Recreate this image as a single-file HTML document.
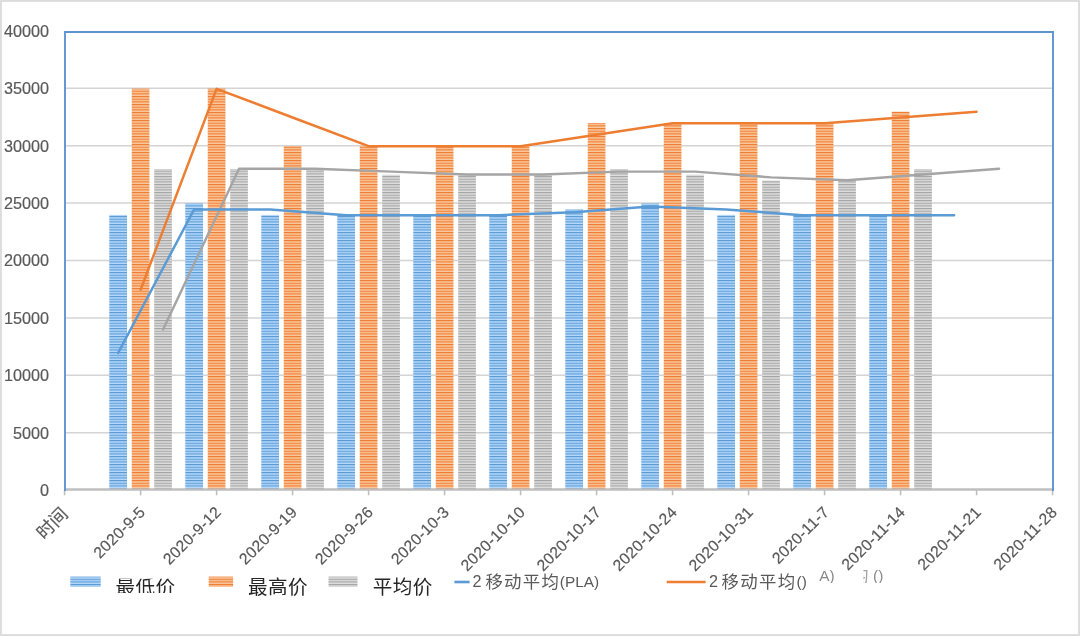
<!DOCTYPE html>
<html lang="zh-CN">
<head>
<meta charset="utf-8">
<title>PLA 价格走势</title>
<style>
html,body{margin:0;padding:0;background:#fff;}
body{width:1080px;height:636px;overflow:hidden;font-family:"Liberation Sans", "Noto Sans CJK SC", sans-serif;}
svg{display:block;}
text{font-family:"Liberation Sans", "Noto Sans CJK SC", sans-serif;}
</style>
</head>
<body>
<svg width="1080" height="636" viewBox="0 0 1080 636">
<defs>
<pattern id="pb" width="20" height="2.667" patternUnits="userSpaceOnUse"><rect width="20" height="2.667" fill="#b6d9fb"/><rect y="0" width="20" height="1.15" fill="#5b9bd5"/></pattern>
<pattern id="po" width="20" height="2.667" patternUnits="userSpaceOnUse"><rect width="20" height="2.667" fill="#fcc8a0"/><rect y="0" width="20" height="1.15" fill="#ed7d31"/></pattern>
<pattern id="pg" width="20" height="2.667" patternUnits="userSpaceOnUse"><rect width="20" height="2.667" fill="#dedede"/><rect y="0" width="20" height="1.15" fill="#a5a5a5"/></pattern>
</defs>
<rect x="0" y="0" width="1080" height="636" fill="#fff"/>
<rect x="0.95" y="0.95" width="1078.1" height="634.1" fill="none" stroke="#dcdcdc" stroke-width="1.9"/>

<g stroke="#d4d4d4" stroke-width="1.5">
<line x1="65.0" x2="1053.0" y1="432.70" y2="432.70"/>
<line x1="65.0" x2="1053.0" y1="375.30" y2="375.30"/>
<line x1="65.0" x2="1053.0" y1="317.90" y2="317.90"/>
<line x1="65.0" x2="1053.0" y1="260.50" y2="260.50"/>
<line x1="65.0" x2="1053.0" y1="203.10" y2="203.10"/>
<line x1="65.0" x2="1053.0" y1="145.70" y2="145.70"/>
<line x1="65.0" x2="1053.0" y1="88.30" y2="88.30"/>
</g>
<g fill="url(#pb)">
<rect x="109.30" y="214.93" width="17.7" height="275.17"/>
<rect x="185.30" y="203.45" width="17.7" height="286.65"/>
<rect x="261.30" y="214.93" width="17.7" height="275.17"/>
<rect x="337.30" y="214.93" width="17.7" height="275.17"/>
<rect x="413.30" y="214.93" width="17.7" height="275.17"/>
<rect x="489.30" y="214.93" width="17.7" height="275.17"/>
<rect x="565.30" y="209.19" width="17.7" height="280.91"/>
<rect x="641.30" y="203.45" width="17.7" height="286.65"/>
<rect x="717.30" y="214.93" width="17.7" height="275.17"/>
<rect x="793.30" y="214.93" width="17.7" height="275.17"/>
<rect x="869.30" y="214.93" width="17.7" height="275.17"/>
</g>
<g fill="url(#po)">
<rect x="131.75" y="88.65" width="17.7" height="401.45"/>
<rect x="207.75" y="88.65" width="17.7" height="401.45"/>
<rect x="283.75" y="146.05" width="17.7" height="344.05"/>
<rect x="359.75" y="146.05" width="17.7" height="344.05"/>
<rect x="435.75" y="146.05" width="17.7" height="344.05"/>
<rect x="511.75" y="146.05" width="17.7" height="344.05"/>
<rect x="587.75" y="123.09" width="17.7" height="367.01"/>
<rect x="663.75" y="123.09" width="17.7" height="367.01"/>
<rect x="739.75" y="123.09" width="17.7" height="367.01"/>
<rect x="815.75" y="123.09" width="17.7" height="367.01"/>
<rect x="891.75" y="111.61" width="17.7" height="378.49"/>
</g>
<g fill="url(#pg)">
<rect x="154.20" y="169.01" width="17.7" height="321.09"/>
<rect x="230.20" y="169.01" width="17.7" height="321.09"/>
<rect x="306.20" y="169.01" width="17.7" height="321.09"/>
<rect x="382.20" y="174.75" width="17.7" height="315.35"/>
<rect x="458.20" y="174.75" width="17.7" height="315.35"/>
<rect x="534.20" y="174.75" width="17.7" height="315.35"/>
<rect x="610.20" y="169.01" width="17.7" height="321.09"/>
<rect x="686.20" y="174.75" width="17.7" height="315.35"/>
<rect x="762.20" y="180.49" width="17.7" height="309.61"/>
<rect x="838.20" y="180.49" width="17.7" height="309.61"/>
<rect x="914.20" y="169.01" width="17.7" height="321.09"/>
</g>
<line x1="65.0" x2="1053.0" y1="489.5" y2="489.5" stroke="#bfbfbf" stroke-width="2.6"/>
<g stroke="#bfbfbf" stroke-width="1.6">
<line x1="64.60" x2="64.60" y1="490.1" y2="495.3"/>
<line x1="140.60" x2="140.60" y1="490.1" y2="495.3"/>
<line x1="216.60" x2="216.60" y1="490.1" y2="495.3"/>
<line x1="292.60" x2="292.60" y1="490.1" y2="495.3"/>
<line x1="368.60" x2="368.60" y1="490.1" y2="495.3"/>
<line x1="444.60" x2="444.60" y1="490.1" y2="495.3"/>
<line x1="520.60" x2="520.60" y1="490.1" y2="495.3"/>
<line x1="596.60" x2="596.60" y1="490.1" y2="495.3"/>
<line x1="672.60" x2="672.60" y1="490.1" y2="495.3"/>
<line x1="748.60" x2="748.60" y1="490.1" y2="495.3"/>
<line x1="824.60" x2="824.60" y1="490.1" y2="495.3"/>
<line x1="900.60" x2="900.60" y1="490.1" y2="495.3"/>
<line x1="976.60" x2="976.60" y1="490.1" y2="495.3"/>
<line x1="1052.60" x2="1052.60" y1="490.1" y2="495.3"/>
</g>
<path d="M65.0 491.1 V32.0 H1053.0 V491.1" fill="none" stroke="#5d94d0" stroke-width="1.9"/>
<polyline points="163.05,329.48 239.05,168.76 315.05,168.76 391.05,171.63 467.05,174.50 543.05,174.50 619.05,171.63 695.05,171.63 771.05,177.37 847.05,180.24 923.05,174.50 999.05,168.76" fill="none" stroke="#a5a5a5" stroke-width="2.45" stroke-linejoin="round" stroke-linecap="round"/>
<polyline points="140.60,289.70 216.60,88.80 292.60,117.50 368.60,146.20 444.60,146.20 520.60,146.20 596.60,134.72 672.60,123.24 748.60,123.24 824.60,123.24 900.60,117.50 976.60,111.76" fill="none" stroke="#ed7d31" stroke-width="2.45" stroke-linejoin="round" stroke-linecap="round"/>
<polyline points="118.15,352.94 194.15,209.44 270.15,209.44 346.15,215.18 422.15,215.18 498.15,215.18 574.15,212.31 650.15,206.57 726.15,209.44 802.15,215.18 878.15,215.18 954.15,215.18" fill="none" stroke="#5b9bd5" stroke-width="2.45" stroke-linejoin="round" stroke-linecap="round"/>
<g font-size="16.2" fill="#595959" stroke="#595959" stroke-width="0.18" text-anchor="end">
<text x="48.9" y="496.00">0</text>
<text x="48.9" y="438.60">5000</text>
<text x="48.9" y="381.20">10000</text>
<text x="48.9" y="323.80">15000</text>
<text x="48.9" y="266.40">20000</text>
<text x="48.9" y="209.00">25000</text>
<text x="48.9" y="151.60">30000</text>
<text x="48.9" y="94.20">35000</text>
<text x="48.9" y="36.80">40000</text>
</g>
<g font-size="15.8" fill="#595959" stroke="#595959" stroke-width="0.18" text-anchor="end" letter-spacing="0.25">
<text transform="translate(69.10 515.10) rotate(-45)" font-size="17.8" letter-spacing="0">时间</text>
<text transform="translate(146.10 513.00) rotate(-45)">2020-9-5</text>
<text transform="translate(222.10 513.00) rotate(-45)">2020-9-12</text>
<text transform="translate(298.10 513.00) rotate(-45)">2020-9-19</text>
<text transform="translate(374.10 513.00) rotate(-45)">2020-9-26</text>
<text transform="translate(450.10 513.00) rotate(-45)">2020-10-3</text>
<text transform="translate(526.10 513.00) rotate(-45)">2020-10-10</text>
<text transform="translate(602.10 513.00) rotate(-45)">2020-10-17</text>
<text transform="translate(678.10 513.00) rotate(-45)">2020-10-24</text>
<text transform="translate(754.10 513.00) rotate(-45)">2020-10-31</text>
<text transform="translate(830.10 513.00) rotate(-45)">2020-11-7</text>
<text transform="translate(906.10 513.00) rotate(-45)">2020-11-14</text>
<text transform="translate(982.10 513.00) rotate(-45)">2020-11-21</text>
<text transform="translate(1058.10 513.00) rotate(-45)">2020-11-28</text>
</g>
<rect x="70.3" y="576.6" width="30.4" height="10.2" fill="url(#pb)"/>
<rect x="208.7" y="576.6" width="24.4" height="10.2" fill="url(#po)"/>
<rect x="328.5" y="576.6" width="29" height="10.2" fill="url(#pg)"/>
<g font-size="19.6" fill="#262626" letter-spacing="0.4">
<clipPath id="c1"><rect x="100" y="578.7" width="90" height="14.3"/></clipPath>
<text x="115.6" y="594.4" clip-path="url(#c1)">最低价</text>
<text x="248.0" y="594.2">最高价</text>
<text x="372.8" y="594.2">平均价</text>
</g>
<line x1="454.4" x2="469.6" y1="582" y2="582" stroke="#5b9bd5" stroke-width="2.6"/>
<line x1="666.7" x2="705.6" y1="582" y2="582" stroke="#ed7d31" stroke-width="2.6"/>
<g fill="#595959" font-size="16.2">
<text y="586.6"><tspan x="472.6">2 </tspan><tspan x="485.4" y="587.6" font-size="17.4" letter-spacing="1.3">移动平均</tspan><tspan> </tspan><tspan x="559.8" y="586.8" font-size="15.4">(PLA)</tspan></text>
<text y="586.6"><tspan x="708.9">2 </tspan><tspan x="721.6" y="587.6" font-size="17.4" letter-spacing="1.3">移动平均</tspan><tspan> </tspan><tspan x="796.6" y="586.8" font-size="15.4">()</tspan></text>
</g>
<g fill="#8a8a8a" font-size="15.4">
<clipPath id="c2"><rect x="810" y="560" width="100" height="23"/></clipPath>
<clipPath id="c3"><rect x="863.4" y="566" width="5.2" height="17"/></clipPath>
<text x="819.2" y="580.8" clip-path="url(#c2)">A)</text>
<text x="851.2" y="581.6" font-size="17.4" fill="#a0a0a0" clip-path="url(#c3)">均</text>
<text x="873.0" y="580.8" clip-path="url(#c2)">()</text>
</g>
</svg>
</body>
</html>
